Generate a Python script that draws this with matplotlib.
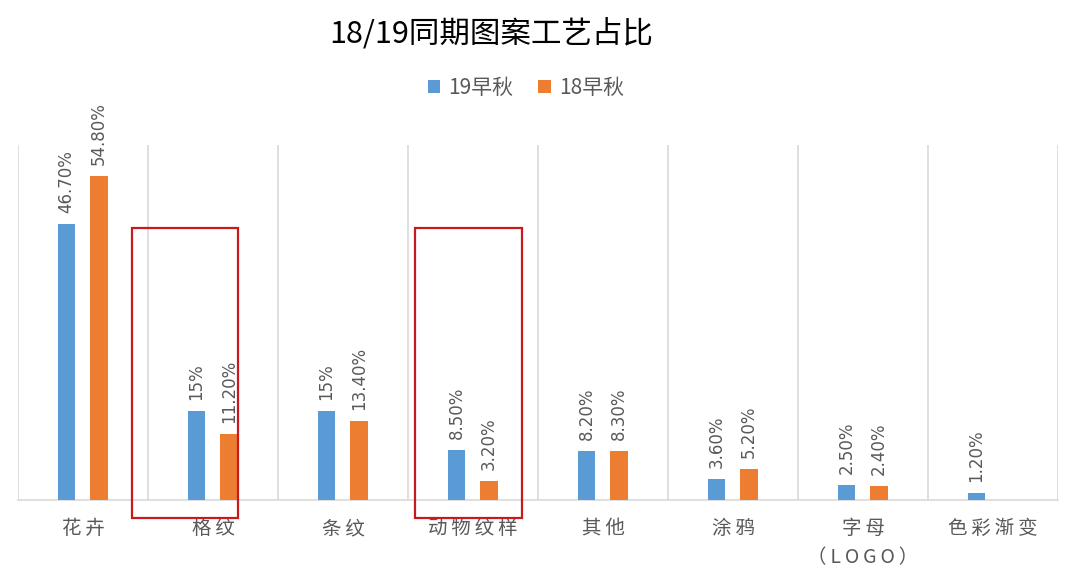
import numpy as np
from matplotlib import pyplot as plt
from matplotlib.patches import Rectangle

plt.rcParams['font.family'] = ['Noto Sans CJK SC', 'DejaVu Sans']

categories = ['花卉', '格纹', '条纹', '动物纹样', '其他', '涂鸦', '字母\n（LOGO）', '色彩渐变']
vals_19 = [46.7, 15, 15, 8.5, 8.2, 3.6, 2.5, 1.2]
vals_18 = [54.8, 11.2, 13.4, 3.2, 8.3, 5.2, 2.4, None]
labels_19 = ['46.70%', '15%', '15%', '8.50%', '8.20%', '3.60%', '2.50%', '1.20%']
labels_18 = ['54.80%', '11.20%', '13.40%', '3.20%', '8.30%', '5.20%', '2.40%', '']
series_names = ['19早秋', '18早秋']

blue = '#5b9bd5'
orange = '#ed7d31'
gray = '#595959'


def spaced(s):
    # letter spacing like the original (thin spaces between glyphs)
    return '\n'.join('\u2009'.join(line) for line in s.split('\n'))


fig = plt.figure(figsize=(10.8, 5.75), dpi=100)
ax = fig.add_axes([18/1080, 75/575, 1040/1080, 355/575])

x = np.arange(len(categories))
w = 0.135
v18 = [v if v is not None else 0 for v in vals_18]
b1 = ax.bar(x - 0.127, vals_19, w, color=blue, label=series_names[0], zorder=3)
b2 = ax.bar(x + 0.123, v18, w, color=orange, label=series_names[1], zorder=3)

for bars, labs in [(b1, labels_19), (b2, labels_18)]:
    for r, lab in zip(bars, labs):
        if not lab:
            continue
        ax.annotate(lab, (r.get_x() + r.get_width() / 2, r.get_height()),
                    xytext=(0, 8), textcoords='offset points', rotation=90,
                    ha='center', va='bottom', fontsize=12, color=gray,
                    family=['DejaVu Sans'])

ax.set_xlim(-0.5, len(categories) - 0.5)
ax.set_ylim(0, 60)
for b in np.arange(-0.5, len(categories), 1):
    ax.axvline(b, color='#d9d9d9', lw=1.2, zorder=1)

for s in ['top', 'left', 'right']:
    ax.spines[s].set_visible(False)
ax.spines['bottom'].set_color('#d9d9d9')
ax.spines['bottom'].set_linewidth(1.2)
ax.set_yticks([])
ax.set_xticks(x)
ax.set_xticklabels([spaced(c) for c in categories], fontsize=14, color=gray,
                   linespacing=1.5, va='top')
ax.tick_params(axis='x', length=0, pad=13)

# red highlight boxes
for x0, x1 in [(0.377, 1.19), (2.554, 3.377)]:
    ax.add_patch(Rectangle((x0, -3.0), x1 - x0, 49.0, fill=False,
                           edgecolor='#c8191c', lw=1.6, clip_on=False, zorder=4))

fig.text(0.455, 0.942, '18/19同期图案工艺占比', ha='center', va='center',
         fontsize=22, color='black')
fig.legend(loc='center', bbox_to_anchor=(0.487, 0.847), ncol=2, frameon=False,
           fontsize=15, labelcolor=gray, handlelength=0.6, handleheight=0.6,
           handletextpad=0.4, columnspacing=1.2)

fig.savefig('out.png', dpi=100)
